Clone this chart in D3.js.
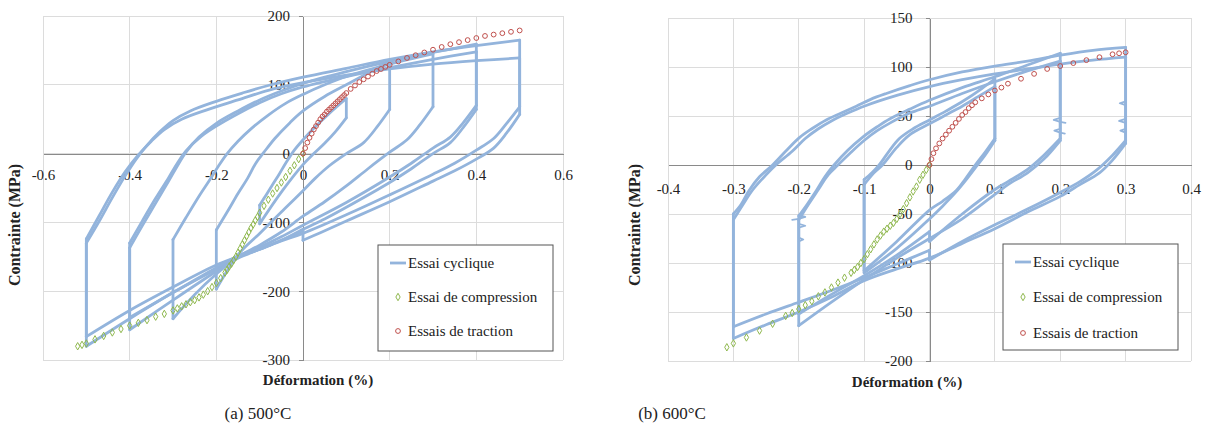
<!DOCTYPE html>
<html><head><meta charset="utf-8">
<script src="https://cdn.jsdelivr.net/npm/d3@7"></script>
<style>
body{margin:0;background:#fff}
svg{display:block}
text{font-family:"Liberation Serif","Tinos","DejaVu Serif","Noto Serif",serif;fill:#222}
</style>
</head><body>
<svg id="c" width="1205" height="434"></svg>
<script>
// ---------- tick labels ----------
const xTicksA = [-0.6,-0.4,-0.2,0,0.2,0.4,0.6];
const xTickLabelsA = ["-0.6","-0.4","-0.2","0","0.2","0.4","0.6"];
const yTicksA = [200,100,0,-100,-200,-300];
const yTickLabelsA = ["200","100","0","-100","-200","-300"];
const xTicksB = [-0.4,-0.3,-0.2,-0.1,0,0.1,0.2,0.3,0.4];
const xTickLabelsB = ["-0.4","-0.3","-0.2","-0.1","0","0.1","0.2","0.3","0.4"];
const yTicksB = [150,100,50,0,-50,-100,-150,-200];
const yTickLabelsB = ["150","100","50","0","-50","-100","-150","-200"];
const legendLabels = ["Essai cyclique","Essai de compression","Essais de traction"];
const captions = ["(a) 500°C","(b) 600°C"];

// ---------- 500°C : cyclic test (strain %, stress MPa) ----------
const a5aUp = [[-0.5,-130],[-0.47,-98],[-0.44,-64],[-0.41,-32],[-0.385,-8],[-0.36,12],[-0.33,32],[-0.3,48],[-0.26,62],[-0.2,76],[-0.14,88],[-0.08,99],[0,111],[0.1,124],[0.2,137],[0.3,148],[0.4,157],[0.5,165]];
const a5aDown = [[0.5,57],[0.47,30],[0.44,8],[0.4,-8],[0.35,-25],[0.3,-40],[0.2,-70],[0.1,-98],[0.04,-115],[0,-126]];
const a5aDown2 = [[0,-112],[-0.05,-126],[-0.1,-139],[-0.15,-152],[-0.2,-168],[-0.3,-202],[-0.4,-240],[-0.5,-280]];
const a5bUp = [[-0.5,-124],[-0.47,-90],[-0.44,-56],[-0.41,-26],[-0.38,-2],[-0.35,18],[-0.32,35],[-0.28,50],[-0.22,64],[-0.15,78],[-0.08,92],[0,103],[0.1,114],[0.2,123],[0.3,130],[0.4,135],[0.5,139]];
const a5bDown = [[0.5,68],[0.47,44],[0.44,22],[0.4,5],[0.35,-14],[0.3,-30],[0.2,-60],[0.1,-89],[0,-116],[-0.05,-127],[-0.1,-139],[-0.15,-150],[-0.2,-162],[-0.3,-194],[-0.4,-228],[-0.5,-266]];
const a4aUp = [[-0.4,-137],[-0.37,-104],[-0.34,-72],[-0.31,-40],[-0.29,-18],[-0.27,2],[-0.24,24],[-0.2,44],[-0.15,62],[-0.1,78],[-0.05,91],[0,102],[0.1,119],[0.2,134],[0.3,147],[0.4,159]];
const a4aDown = [[0.4,64],[0.37,38],[0.34,16],[0.3,0],[0.25,-22],[0.2,-42],[0.1,-78],[0.05,-95],[0,-110],[-0.05,-126],[-0.1,-139],[-0.15,-151],[-0.2,-171],[-0.3,-213],[-0.4,-256]];
const a4bUp = [[-0.4,-130],[-0.37,-97],[-0.34,-65],[-0.31,-35],[-0.29,-14],[-0.27,4],[-0.235,25],[-0.2,40],[-0.15,58],[-0.1,74],[-0.05,87],[0,97],[0.1,112],[0.2,125],[0.3,137],[0.4,148]];
const a4bDown = [[0.4,70],[0.37,45],[0.34,24],[0.3,8],[0.25,-14],[0.2,-34],[0.1,-71],[0,-104],[-0.05,-121],[-0.1,-136],[-0.15,-149],[-0.2,-166],[-0.3,-202],[-0.4,-238]];
const a3Up = [[-0.3,-125],[-0.27,-93],[-0.24,-62],[-0.215,-38],[-0.195,-18],[-0.175,0],[-0.15,18],[-0.12,36],[-0.08,56],[-0.04,73],[0,86],[0.05,100],[0.1,112],[0.2,130],[0.3,145]];
const a3Down = [[0.3,68],[0.27,42],[0.24,20],[0.2,2],[0.15,-22],[0.1,-47],[0.05,-70],[0,-91],[-0.05,-114],[-0.1,-133],[-0.15,-150],[-0.2,-175],[-0.25,-205],[-0.3,-240]];
const a2Up = [[-0.2,-111],[-0.175,-85],[-0.15,-58],[-0.128,-36],[-0.11,-15],[-0.09,2],[-0.065,22],[-0.03,45],[0,62],[0.05,83],[0.1,100],[0.15,117],[0.2,134]];
const a2Down = [[0.2,64],[0.17,38],[0.14,16],[0.1,0],[0.06,-18],[0.028,-36],[0,-54],[-0.05,-85],[-0.1,-116],[-0.15,-147],[-0.2,-197]];
const a1Up = [[-0.1,-75],[-0.085,-60],[-0.07,-45],[-0.055,-30],[-0.04,-14],[-0.02,5],[0,20],[0.03,40],[0.06,58],[0.1,80]];
const a1Down = [[0.1,52],[0.075,32],[0.05,15],[0.025,0],[0,-16],[-0.05,-56],[-0.1,-102]];

// 500°C : compression test
const compA = [[0,0],[-0.01,-8],[-0.02,-17],[-0.03,-25],[-0.04,-34],[-0.05,-42],[-0.06,-50],[-0.07,-58],[-0.08,-67],[-0.09,-76],[-0.1,-86],[-0.105,-92],[-0.11,-97],[-0.115,-103],[-0.12,-108],[-0.125,-114],[-0.13,-120],[-0.135,-126],[-0.14,-132],[-0.145,-138],[-0.15,-144],[-0.155,-150],[-0.16,-155],[-0.165,-160],[-0.17,-164],[-0.175,-169],[-0.18,-173],[-0.19,-181],[-0.2,-188],[-0.21,-194],[-0.22,-200],[-0.23,-205],[-0.24,-209],[-0.25,-213],[-0.26,-216],[-0.27,-219],[-0.28,-222],[-0.29,-225],[-0.3,-228],[-0.32,-233],[-0.34,-237],[-0.36,-242],[-0.38,-246],[-0.4,-250],[-0.42,-255],[-0.44,-260],[-0.46,-265],[-0.48,-270],[-0.5,-276],[-0.51,-278],[-0.52,-280]];
// 500°C : tension tests
const tracA = [[0,0],[0.005,8],[0.01,16],[0.015,23],[0.02,29],[0.025,35],[0.03,40],[0.035,45],[0.04,50],[0.045,54],[0.05,57],[0.055,61],[0.06,64],[0.065,67],[0.07,70],[0.075,73],[0.08,76],[0.085,79],[0.09,82],[0.095,85],[0.1,88],[0.11,94],[0.12,99],[0.13,104],[0.14,108],[0.15,112],[0.16,116],[0.17,120],[0.18,123],[0.19,126],[0.2,129],[0.22,134],[0.24,139],[0.26,143],[0.28,147],[0.3,151],[0.32,155],[0.34,159],[0.36,162],[0.38,165],[0.4,168],[0.42,171],[0.44,173],[0.46,175],[0.48,177],[0.5,179]];

// ---------- 600°C : cyclic test ----------
const b3aUp = [[-0.3,-50],[-0.288,-40],[-0.276,-26],[-0.26,-12],[-0.24,0],[-0.22,14],[-0.199,28],[-0.18,37],[-0.158,46],[-0.135,53],[-0.112,60],[-0.09,67],[-0.066,73],[-0.03,81],[0,87],[0.05,95],[0.1,101],[0.15,106],[0.2,112],[0.25,117],[0.3,120]];
const b3aDown = [[0.3,25],[0.28,10],[0.256,-5],[0.23,-17],[0.2,-28],[0.15,-45],[0.1,-61],[0.05,-78],[0,-97]];
const b3aDown2 = [[0,-87],[-0.05,-101],[-0.1,-115],[-0.15,-128],[-0.2,-140],[-0.25,-152],[-0.3,-165]];
const b3bUp = [[-0.3,-56],[-0.285,-40],[-0.27,-25],[-0.25,-10],[-0.235,0],[-0.21,14],[-0.19,27],[-0.17,37],[-0.15,45],[-0.125,53],[-0.1,60],[-0.05,71],[0,80],[0.05,87],[0.1,93],[0.15,98],[0.2,103],[0.25,107],[0.3,110]];
const b3bDown = [[0.3,22],[0.28,5],[0.26,-8],[0.23,-20],[0.2,-32],[0.15,-48],[0.1,-65],[0.05,-80],[0,-95],[-0.05,-106],[-0.1,-118],[-0.15,-135],[-0.2,-150],[-0.25,-163],[-0.3,-177]];
const b2aUp = [[-0.2,-52],[-0.187,-40],[-0.173,-26],[-0.16,-12],[-0.146,0],[-0.125,15],[-0.103,28],[-0.08,39],[-0.061,47],[-0.03,57],[0,66],[0.05,79],[0.1,90],[0.15,102],[0.2,114]];
const b2aDown = [[0.2,27],[0.175,10],[0.149,-5],[0.12,-17],[0.1,-25],[0.05,-50],[0,-78]];
const b2aDown2 = [[0,-68],[-0.05,-92],[-0.1,-113],[-0.15,-132],[-0.2,-152]];
const b2bUp = [[-0.2,-56],[-0.185,-40],[-0.17,-25],[-0.155,-10],[-0.14,0],[-0.12,13],[-0.1,25],[-0.08,35],[-0.06,43],[-0.03,53],[0,60],[0.05,73],[0.1,85],[0.15,96],[0.2,106]];
const b2bDown = [[0.2,25],[0.175,6],[0.15,-8],[0.12,-20],[0.1,-30],[0.05,-55],[0,-75],[-0.05,-95],[-0.1,-117],[-0.15,-140],[-0.2,-164]];
const b1aUp = [[-0.1,-15],[-0.088,-8],[-0.077,0],[-0.062,14],[-0.046,27],[-0.025,37],[0,46],[0.025,55],[0.051,65],[0.08,78],[0.1,88]];
const b1aDown = [[0.1,27],[0.085,13],[0.07,0],[0.055,-14],[0.041,-26],[0.02,-37],[0,-46],[-0.05,-78],[-0.1,-108]];
const b1bUp = [[-0.1,-20],[-0.085,-8],[-0.072,0],[-0.05,18],[-0.03,31],[0,42],[0.025,51],[0.05,60],[0.075,70],[0.1,80]];
const b1bDown = [[0.1,25],[0.085,10],[0.07,-3],[0.055,-16],[0.04,-28],[0.02,-42],[0,-55],[-0.05,-85],[-0.1,-110]];
// 600°C : small glitches recorded during the strain holds
const b3Glitch1 = [[0.3,65],[0.291,63],[0.3,61]];
const b3Glitch2 = [[0.3,47],[0.29,45],[0.3,43]];
const b3Glitch3 = [[0.3,37],[0.292,35],[0.3,33]];
const b2Glitch1 = [[0.2,48],[0.19,46],[0.2,44],[0.208,43]];
const b2Glitch2 = [[0.2,37],[0.191,35],[0.2,33],[0.207,32]];
const bm2Glitch1 = [[-0.2,-51],[-0.19,-53],[-0.2,-55],[-0.21,-56]];
const bm2Glitch2 = [[-0.2,-60],[-0.19,-62],[-0.2,-64]];
const bm2Glitch3 = [[-0.2,-74],[-0.193,-76],[-0.2,-78]];

// 600°C : compression test
const compB = [[0,0],[-0.005,-5],[-0.01,-10],[-0.015,-15],[-0.02,-22],[-0.025,-27],[-0.03,-33],[-0.035,-39],[-0.04,-45],[-0.045,-50],[-0.05,-55],[-0.055,-59],[-0.06,-62],[-0.065,-65],[-0.07,-68],[-0.075,-72],[-0.08,-76],[-0.085,-81],[-0.09,-86],[-0.095,-91],[-0.1,-96],[-0.105,-100],[-0.11,-104],[-0.115,-107],[-0.12,-110],[-0.13,-115],[-0.14,-120],[-0.15,-125],[-0.16,-130],[-0.17,-134],[-0.18,-139],[-0.19,-143],[-0.2,-147],[-0.21,-151],[-0.22,-154],[-0.24,-162],[-0.26,-169],[-0.28,-176],[-0.3,-182],[-0.31,-186]];
// 600°C : tension tests
const tracB = [[0,0],[0.003,6],[0.006,12],[0.01,17],[0.015,22],[0.02,27],[0.025,31],[0.03,35],[0.035,39],[0.04,43],[0.045,47],[0.05,51],[0.055,54],[0.06,58],[0.065,61],[0.07,64],[0.08,68],[0.09,72],[0.1,76],[0.11,79],[0.12,83],[0.14,88],[0.16,93],[0.18,98],[0.2,101],[0.22,104],[0.24,107],[0.26,110],[0.28,113],[0.29,114],[0.3,115]];

// ---------- drawing ----------
const COL_CYC = "#93b4dc", COL_COMP = "#8fb84e", COL_TRAC = "#c0504d";
const svg = d3.select("#c");

function drawChart(o){
  const g = svg.append("g");
  const x = d3.scaleLinear().domain(o.xDomain).range(o.xRange);
  const y = d3.scaleLinear().domain(o.yDomain).range(o.yRange);
  g.append("g").selectAll("line").data(o.xTicks).join("line")
    .attr("x1",d=>x(d)).attr("x2",d=>x(d)).attr("y1",o.yRange[0]).attr("y2",o.yRange[1])
    .attr("stroke","#dcdcdc").attr("shape-rendering","crispEdges");
  g.append("g").selectAll("line").data(o.yTicks).join("line")
    .attr("y1",d=>y(d)).attr("y2",d=>y(d)).attr("x1",o.xRange[0]).attr("x2",o.xRange[1])
    .attr("stroke","#dcdcdc").attr("shape-rendering","crispEdges");
  const ax = g.append("g").attr("transform",`translate(0,${y(0)})`)
    .call(d3.axisBottom(x).tickValues(o.xTicks).tickFormat((d,i)=>o.xLabels[i]).tickSize(0).tickPadding(o.xPad));
  const ay = g.append("g").attr("transform",`translate(${x(0)},0)`)
    .call(d3.axisLeft(y).tickValues(o.yTicks).tickFormat((d,i)=>o.yLabels[i]).tickSize(4).tickSizeOuter(0).tickPadding(o.yPad));
  [ax,ay].forEach(a=>{
    a.attr("font-family",null);
    a.select(".domain").attr("stroke","#8a8a8a").attr("shape-rendering","crispEdges");
    a.selectAll(".tick line").attr("stroke","#8a8a8a").attr("shape-rendering","crispEdges");
    a.selectAll("text").attr("font-size",o.fs).attr("fill","#222");
  });
  const curve = d3.line().x(d=>x(d[0])).y(d=>y(d[1])).curve(d3.curveCatmullRom.alpha(0.5));
  const straight = d3.line().x(d=>x(d[0])).y(d=>y(d[1]));
  const cyc = g.append("g").attr("fill","none").attr("stroke",COL_CYC).attr("stroke-width",2.8)
    .attr("stroke-linejoin","round").attr("stroke-linecap","round");
  o.loops.forEach(loop=>{
    loop.forEach((br,i)=>{
      cyc.append("path").attr("d",curve(br));
      const nxt = loop[(i+1)%loop.length];
      cyc.append("path").attr("d",straight([br[br.length-1],nxt[0]]));
    });
  });
  (o.glitches||[]).forEach(gl=>cyc.append("path").attr("d",straight(gl)).attr("stroke-width",1.8));
  const dia = d3.symbol().type(d3.symbolDiamond).size(16);
  g.append("g").selectAll("path").data(o.comp).join("path")
    .attr("transform",d=>`translate(${x(d[0])},${y(d[1])})`).attr("d",dia)
    .attr("fill","none").attr("stroke",COL_COMP).attr("stroke-width",1);
  g.append("g").selectAll("circle").data(o.trac).join("circle")
    .attr("cx",d=>x(d[0])).attr("cy",d=>y(d[1])).attr("r",2.4)
    .attr("fill","none").attr("stroke",COL_TRAC).attr("stroke-width",1);
  g.append("text").attr("x",o.xTitle[0]).attr("y",o.xTitle[1]).attr("text-anchor","middle")
    .attr("font-weight","bold").attr("font-size",o.fs).text("Déformation (%)");
  g.append("text").attr("transform",`translate(${o.yTitle[0]},${o.yTitle[1]}) rotate(-90)`).attr("text-anchor","middle")
    .attr("font-weight","bold").attr("font-size",o.fs+1).text("Contrainte (MPa)");
  const L = g.append("g").attr("transform",`translate(${o.legend[0]},${o.legend[1]})`);
  L.append("rect").attr("width",o.legend[2]).attr("height",o.legend[3]).attr("fill","#fff").attr("stroke","#555");
  const ly = o.legRows;
  L.append("line").attr("x1",12).attr("x2",28).attr("y1",ly[0]).attr("y2",ly[0]).attr("stroke",COL_CYC).attr("stroke-width",2.8);
  L.append("path").attr("transform",`translate(20,${ly[1]})`).attr("d",dia).attr("fill","none").attr("stroke",COL_COMP);
  L.append("circle").attr("cx",20).attr("cy",ly[2]).attr("r",2.4).attr("fill","none").attr("stroke",COL_TRAC);
  L.selectAll("text.lg").data(legendLabels).join("text").attr("class","lg")
    .attr("x",30).attr("y",(d,i)=>ly[i]).attr("dy","0.35em").attr("font-size",o.fs).text(d=>d);
  svg.append("text").attr("x",o.caption[0]).attr("y",o.caption[1]).attr("text-anchor","middle")
    .attr("font-size",o.fs+2).text(o.captionText);
}

drawChart({
  xDomain:[-0.6,0.6], xRange:[43,563], yDomain:[-300,200], yRange:[360,16], fs:15,
  xTicks:xTicksA, xLabels:xTickLabelsA, yTicks:yTicksA, yLabels:yTickLabelsA, xPad:16, yPad:9,
  loops:[[a5aUp,a5aDown,a5aDown2],[a5bUp,a5bDown],[a4aUp,a4aDown],[a4bUp,a4bDown],[a3Up,a3Down],[a2Up,a2Down],[a1Up,a1Down]],
  comp:compA, trac:tracA,
  xTitle:[318,385], yTitle:[20,225],
  legend:[378,245,175,106], legRows:[18,52,86],
  caption:[258,419], captionText:captions[0]
});
drawChart({
  xDomain:[-0.4,0.4], xRange:[668,1191], yDomain:[-200,150], yRange:[361,18], fs:15,
  xTicks:xTicksB, xLabels:xTickLabelsB, yTicks:yTicksB, yLabels:yTickLabelsB, xPad:18, yPad:13,
  loops:[[b3aUp,b3aDown,b3aDown2],[b3bUp,b3bDown],[b2aUp,b2aDown,b2aDown2],[b2bUp,b2bDown],[b1aUp,b1aDown],[b1bUp,b1bDown]],
  glitches:[b3Glitch1,b3Glitch2,b3Glitch3,b2Glitch1,b2Glitch2,bm2Glitch1,bm2Glitch2,bm2Glitch3],
  comp:compB, trac:tracB,
  xTitle:[907,387], yTitle:[640,225],
  legend:[1003,244,175,106], legRows:[18,53,89],
  caption:[672,419], captionText:captions[1]
});
</script>
</body></html>
